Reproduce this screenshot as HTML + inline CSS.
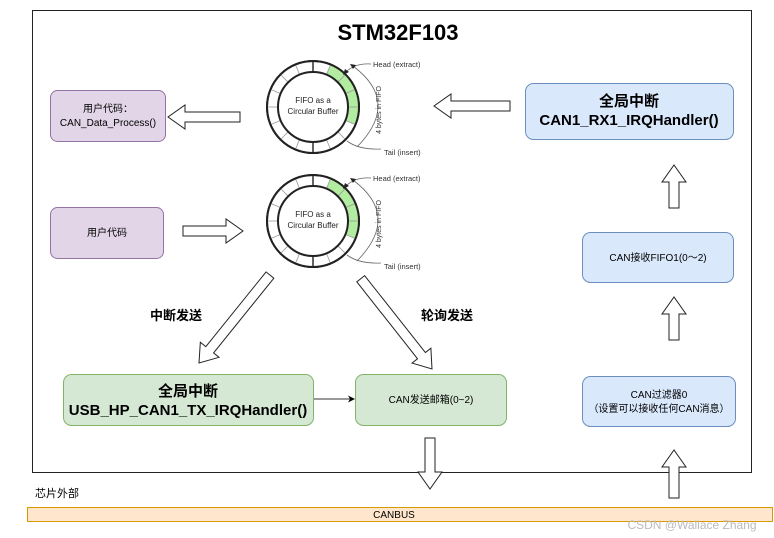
<!DOCTYPE html>
<html><head><meta charset="utf-8"><style>
body{margin:0;background:#fff;}
svg{display:block;font-family:"Liberation Sans","Noto Sans CJK SC",sans-serif;}
</style></head><body>
<svg width="774" height="538" viewBox="0 0 774 538" xmlns="http://www.w3.org/2000/svg">
<defs>
<g id="ring">
  <circle r="46" fill="#fff" stroke="#222" stroke-width="2"/>
  <path d="M 17.6,-42.5 A46,46 0 0 1 42.5,17.6 L 32.3,13.4 A35,35 0 0 0 13.4,-32.3 Z" fill="#b2eca0"/>
  <g stroke="#999" stroke-width="0.8">
    <line x1="0" y1="-35" x2="0" y2="-46" stroke="#222" stroke-width="1.4"/>
    <line x1="13.4" y1="-32.3" x2="17.6" y2="-42.5"/>
    <line x1="24.7" y1="-24.7" x2="32.5" y2="-32.5"/>
    <line x1="32.3" y1="-13.4" x2="42.5" y2="-17.6"/>
    <line x1="35" y1="0" x2="46" y2="0"/>
    <line x1="32.3" y1="13.4" x2="42.5" y2="17.6"/>
    <line x1="24.7" y1="24.7" x2="32.5" y2="32.5"/>
    <line x1="13.4" y1="32.3" x2="17.6" y2="42.5"/>
    <line x1="0" y1="35" x2="0" y2="46" stroke="#222" stroke-width="1.4"/>
    <line x1="-13.4" y1="32.3" x2="-17.6" y2="42.5"/>
    <line x1="-24.7" y1="24.7" x2="-32.5" y2="32.5"/>
    <line x1="-32.3" y1="13.4" x2="-42.5" y2="17.6"/>
    <line x1="-35" y1="0" x2="-46" y2="0"/>
    <line x1="-32.3" y1="-13.4" x2="-42.5" y2="-17.6"/>
    <line x1="-24.7" y1="-24.7" x2="-32.5" y2="-32.5"/>
    <line x1="-13.4" y1="-32.3" x2="-17.6" y2="-42.5"/>
  </g>
  <circle r="46" fill="none" stroke="#222" stroke-width="2"/>
  <circle r="35" fill="none" stroke="#222" stroke-width="2"/>
  <text x="0" y="-4" font-size="8" text-anchor="middle" fill="#222">FIFO as a</text>
  <text x="0" y="7" font-size="8" text-anchor="middle" fill="#222">Circular Buffer</text>
  <path d="M 58,-43 Q 42,-44 33,-35" fill="none" stroke="#666" stroke-width="0.8"/>
  <polygon points="30,-32 32,-38 36,-35" fill="#222"/>
  <path d="M 40,-41 Q 88,-5 44,40" fill="none" stroke="#666" stroke-width="0.8"/>
  <polygon points="37,-43 43,-42 40,-38" fill="#222"/>
  <path d="M 68,42 Q 46,43 34,34" fill="none" stroke="#666" stroke-width="0.8"/>
  <text x="60" y="-40" font-size="7.5" fill="#333">Head (extract)</text>
  <text x="71" y="48" font-size="7.5" fill="#333">Tail (insert)</text>
  <text transform="translate(68,3) rotate(-90)" font-size="7" text-anchor="middle" fill="#333">4 bytes in FIFO</text>
</g>
</defs>
<rect x="32.5" y="10.5" width="719" height="462" fill="#fff" stroke="#222" stroke-width="1"/>
<text x="398" y="40" font-size="22" font-weight="bold" text-anchor="middle" fill="#000">STM32F103</text>

<rect x="50.5" y="90.5" width="115" height="51" rx="7" fill="#e1d5e7" stroke="#9673a6"/>
<text x="108" y="112" font-size="10" text-anchor="middle">用户代码：</text>
<text x="108" y="126" font-size="10" text-anchor="middle">CAN_Data_Process()</text>
<rect x="50.5" y="207.5" width="113" height="51" rx="7" fill="#e1d5e7" stroke="#9673a6"/>
<text x="107" y="236" font-size="10" text-anchor="middle">用户代码</text>

<rect x="525.5" y="83.5" width="208" height="56" rx="8" fill="#dae8fc" stroke="#6c8ebf"/>
<text x="629" y="106" font-size="15" font-weight="bold" text-anchor="middle">全局中断</text>
<text x="629" y="125" font-size="15" font-weight="bold" text-anchor="middle">CAN1_RX1_IRQHandler()</text>
<rect x="582.5" y="232.5" width="151" height="50" rx="8" fill="#dae8fc" stroke="#6c8ebf"/>
<text x="658" y="261" font-size="10" text-anchor="middle">CAN接收FIFO1(0～2)</text>
<rect x="582.5" y="376.5" width="153" height="50" rx="8" fill="#dae8fc" stroke="#6c8ebf"/>
<text x="659" y="398" font-size="10" text-anchor="middle">CAN过滤器0</text>
<text x="659" y="412" font-size="10" text-anchor="middle">（设置可以接收任何CAN消息）</text>

<rect x="63.5" y="374.5" width="250" height="51" rx="8" fill="#d5e8d4" stroke="#82b366"/>
<text x="188" y="396" font-size="15" font-weight="bold" text-anchor="middle">全局中断</text>
<text x="188" y="415" font-size="15" font-weight="bold" text-anchor="middle">USB_HP_CAN1_TX_IRQHandler()</text>
<rect x="355.5" y="374.5" width="151" height="51" rx="8" fill="#d5e8d4" stroke="#82b366"/>
<text x="431" y="403" font-size="10" text-anchor="middle">CAN发送邮箱(0~2)</text>
<line x1="314" y1="399" x2="350" y2="399" stroke="#333" stroke-width="1"/>
<polygon points="355,399 348,395.5 350,399 348,402.5" fill="#000"/>

<g transform="translate(313,107)"><use href="#ring"/></g>
<g transform="translate(313,221)"><use href="#ring"/></g>

<g fill="#fff" stroke="#222" stroke-width="1">
  <g transform="translate(168,117) rotate(180)"><polygon points="-72,-5 -17,-5 -17,-12 0,0 -17,12 -17,5 -72,5"/></g>
  <g transform="translate(243,231)"><polygon points="-60,-5 -17,-5 -17,-12 0,0 -17,12 -17,5 -60,5"/></g>
  <g transform="translate(434,106) rotate(180)"><polygon points="-76,-5 -17,-5 -17,-12 0,0 -17,12 -17,5 -76,5"/></g>
  <g transform="translate(674,165) rotate(-90)"><polygon points="-43,-5 -17,-5 -17,-12 0,0 -17,12 -17,5 -43,5"/></g>
  <g transform="translate(674,297) rotate(-90)"><polygon points="-43,-5 -17,-5 -17,-12 0,0 -17,12 -17,5 -43,5"/></g>
  <g transform="translate(674,450) rotate(-90)"><polygon points="-48,-5 -17,-5 -17,-12 0,0 -17,12 -17,5 -48,5"/></g>
  <g transform="translate(430,489) rotate(90)"><polygon points="-51,-5 -17,-5 -17,-12 0,0 -17,12 -17,5 -51,5"/></g>
  <g transform="translate(199,363) rotate(128.9)"><polygon points="-113,-5 -17,-5 -17,-12 0,0 -17,12 -17,5 -113,5"/></g>
  <g transform="translate(432,369) rotate(51.7)"><polygon points="-115,-5 -17,-5 -17,-12 0,0 -17,12 -17,5 -115,5"/></g>
</g>

<text x="176" y="320" font-size="13" font-weight="bold" text-anchor="middle">中断发送</text>
<text x="447" y="320" font-size="13" font-weight="bold" text-anchor="middle">轮询发送</text>

<text x="35" y="497" font-size="11">芯片外部</text>
<rect x="27.5" y="507.5" width="745" height="14" fill="#ffe6cc" stroke="#d79b00"/>
<text x="394" y="518" font-size="10" text-anchor="middle">CANBUS</text>
<text x="692" y="529" font-size="12" text-anchor="middle" fill="#bbb">CSDN @Wallace Zhang</text>
</svg>
</body></html>
